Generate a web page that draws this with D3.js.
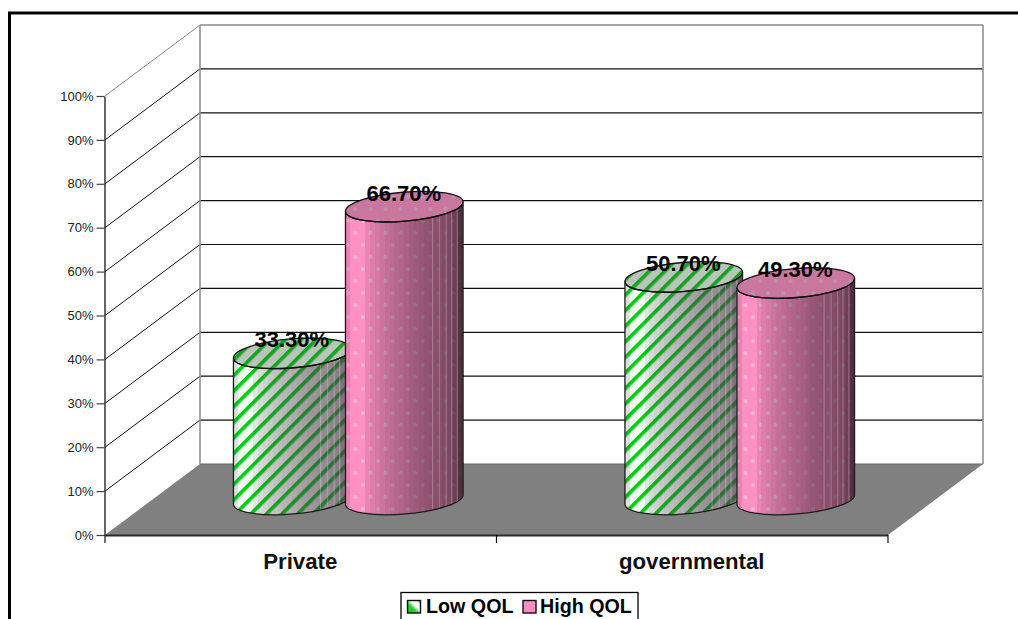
<!DOCTYPE html>
<html>
<head>
<meta charset="utf-8">
<script src="https://cdn.jsdelivr.net/npm/d3@7/dist/d3.min.js"></script>
<style>
  html, body { margin: 0; padding: 0; background: #fff; overflow: hidden; }
  svg { display: block; }
  text { font-family: "Liberation Sans", Arial, sans-serif; }
</style>
</head>
<body>
<svg id="chart" width="1018" height="619"></svg>
<script>
// Survey results: share of respondents by quality-of-life group and sector
const categories = ["Private", "governmental"];
const seriesNames = ["Low QOL", "High QOL"];
const lowQol = [33.3, 50.7];
const highQol = [66.7, 49.3];
const tickValues = [0, 10, 20, 30, 40, 50, 60, 70, 80, 90, 100];

const svg = d3.select("#chart");
const defs = svg.append("defs");

// Front plane of the 3D box, and the offset to its back wall
const y = d3.scaleLinear().domain([0, 100]).range([535, 96]);
const x = d3.scaleBand().domain(categories).range([105, 888]);
const depth = { dx: 95, dy: -71 };
const seriesOffset = d3.scaleOrdinal().domain(seriesNames).range([-56, 56]);
const rx = 59, ry = 14.5, tilt = 4.8 * Math.PI / 180;

// Fill patterns
const stripes = defs.append("pattern").attr("id", "stripes")
  .attr("patternUnits", "userSpaceOnUse").attr("width", 11).attr("height", 11)
  .attr("patternTransform", "rotate(45)");
stripes.append("rect").attr("width", 11).attr("height", 11).attr("fill", "#f2faf2");
stripes.append("rect").attr("x", -0.8).attr("width", 5).attr("height", 11).attr("fill", "#8fe898");
stripes.append("rect").attr("width", 3.4).attr("height", 11).attr("fill", "#00cc14");

const dots = defs.append("pattern").attr("id", "dots")
  .attr("patternUnits", "userSpaceOnUse").attr("width", 15).attr("height", 24);
dots.append("rect").attr("width", 15).attr("height", 24).attr("fill", "#ff90c4");
[[3, 5], [10.5, 17]].forEach(([cx, cy]) => {
  dots.append("circle").attr("cx", cx).attr("cy", cy).attr("r", 2)
    .attr("fill", "#e4d0dc").attr("opacity", 0.6);
});

// Stepped shading that turns the flat fill into a round surface
const shadeSteps = [0.12, 0, 0, 0, 0.1, 0.16, 0.2, 0.24, 0.28, 0.31, 0.34, 0.37, 0.4, 0.43, 0.46, 0.49, 0.51, 0.53, 0.55, 0.57, 0.59, 0.62, 0.68, 0.82];
function addShade(id, color) {
  const g = defs.append("linearGradient").attr("id", id)
    .attr("x1", 0).attr("x2", 1).attr("y1", 0).attr("y2", 0);
  shadeSteps.forEach((a, i) => {
    g.append("stop").attr("offset", i / shadeSteps.length).attr("stop-color", color).attr("stop-opacity", a);
    g.append("stop").attr("offset", (i + 1) / shadeSteps.length).attr("stop-color", color).attr("stop-opacity", a);
  });
}
addShade("shadePink", "#2a1a24");
addShade("shadeGreen", "#4a3048");

const legendGrad = defs.append("linearGradient").attr("id", "legendGreen")
  .attr("x1", 0).attr("y1", 1).attr("x2", 1).attr("y2", 0);
[[0, "#00c818"], [0.4, "#30d040"], [0.6, "#ffffff"], [0.8, "#e8f8e8"], [1, "#20b030"]].forEach(([o, c]) =>
  legendGrad.append("stop").attr("offset", o).attr("stop-color", c));

// Outer chart frame (left and top sides show)
svg.append("path").attr("d", "M9.5,619 V13 H1018").attr("fill", "none")
  .attr("stroke", "#000").attr("stroke-width", 3);

// Floor
const floorY = y(0);
svg.append("path")
  .attr("d", `M${x.range()[0]},${floorY} l${depth.dx},${depth.dy} H${x.range()[1] + depth.dx} L${x.range()[1]},${floorY} Z`)
  .attr("fill", "#808080");

// Gridlines running along the side wall and the back wall
const grid = svg.append("g").attr("fill", "none");
tickValues.forEach(t => {
  const top = t === 100, bottom = t === 0;
  const col = top ? "#888" : "#111";
  if (!bottom) {
    grid.append("line").attr("x1", 105).attr("y1", y(t))
      .attr("x2", 105 + depth.dx).attr("y2", y(t) + depth.dy)
      .attr("stroke", col).attr("stroke-width", 1);
    grid.append("line").attr("x1", 105 + depth.dx).attr("y1", y(t) + depth.dy)
      .attr("x2", 888 + depth.dx).attr("y2", y(t) + depth.dy)
      .attr("stroke", col).attr("stroke-width", top ? 1.6 : 1.2);
  } else {
    grid.append("line").attr("x1", 105 + depth.dx).attr("y1", y(t) + depth.dy)
      .attr("x2", 888 + depth.dx).attr("y2", y(t) + depth.dy)
      .attr("stroke", "#666").attr("stroke-width", 1.2);
  }
});
[105 + depth.dx, 888 + depth.dx].forEach(px => {
  grid.append("line").attr("x1", px).attr("x2", px)
    .attr("y1", y(100) + depth.dy).attr("y2", y(0) + depth.dy)
    .attr("stroke", "#909090").attr("stroke-width", 1.6);
});

// Value axis
const yAxis = d3.axisLeft(y).tickValues(tickValues).tickFormat(d => d + "%").tickSize(8).tickSizeOuter(0).tickPadding(3);
const yG = svg.append("g").attr("transform", "translate(104.5,0)").call(yAxis);
yG.select(".domain").attr("stroke", "#000").attr("stroke-width", 1.2);
yG.selectAll(".tick line").attr("stroke", "#444").attr("stroke-width", 1.2);
yG.selectAll(".tick text").attr("font-size", 13).attr("fill", "#222")
  .attr("font-family", '"Liberation Sans", Arial, sans-serif');

// Category axis: front edge, tick marks between categories and labels
svg.append("line").attr("x1", 105).attr("x2", 888).attr("y1", floorY + 0.5).attr("y2", floorY + 0.5)
  .attr("stroke", "#2a2a2a").attr("stroke-width", 2);
const boundaries = [x.range()[0], x(categories[1]), x.range()[1]];
svg.selectAll("line.cat-tick").data(boundaries).join("line").attr("class", "cat-tick")
  .attr("x1", d => d).attr("x2", d => d).attr("y1", floorY).attr("y2", floorY + 8)
  .attr("stroke", "#111").attr("stroke-width", 1.2);
svg.selectAll("text.cat").data(categories).join("text").attr("class", "cat")
  .attr("x", d => x(d) + x.bandwidth() / 2 - 0.5)
  .attr("y", 569)
  .attr("text-anchor", "middle").attr("font-size", 22.2).attr("font-weight", "bold").attr("fill", "#111")
  .text(d => d);

// Cylinders sit halfway into the box depth
function cylinderPath(cx, yTop, yBase) {
  const ex = rx * Math.cos(tilt), ey = rx * Math.sin(tilt), deg = -tilt * 180 / Math.PI;
  return {
    body: `M${cx - ex},${yTop + ey} L${cx - ex},${yBase + ey} ` +
          `A${rx},${ry} ${deg} 0 0 ${cx + ex},${yBase - ey} L${cx + ex},${yTop - ey} ` +
          `A${rx},${ry} ${deg} 0 1 ${cx - ex},${yTop + ey} Z`,
    top: `M${cx - ex},${yTop + ey} A${rx},${ry} ${deg} 0 1 ${cx + ex},${yTop - ey} ` +
         `A${rx},${ry} ${deg} 0 1 ${cx - ex},${yTop + ey} Z`
  };
}

const bars = [];
seriesNames.forEach((name, s) => {
  const values = s === 0 ? lowQol : highQol;
  categories.forEach((cat, c) => bars.push({ name, cat, value: values[c], c, s }));
});
// Left-to-right per category so the second cylinder overlaps the first
bars.sort((a, b) => a.c - b.c || a.s - b.s);

const highlightBands = [0.74, 0.8, 0.855, 0.9, 0.95];
bars.forEach((b, i) => {
  const cx = x(b.cat) + x.bandwidth() / 2 + depth.dx / 2 + seriesOffset(b.name);
  const yBase = y(0) + depth.dy / 2;
  const yTop = y(b.value) + depth.dy / 2;
  const p = cylinderPath(cx, yTop, yBase);
  const isLow = b.s === 0;
  const g = svg.append("g").attr("class", "bar");
  g.append("path").attr("d", p.body).attr("fill", isLow ? "url(#stripes)" : "url(#dots)");
  g.append("path").attr("d", p.body).attr("fill", isLow ? "url(#shadeGreen)" : "url(#shadePink)");

  const clipId = "clip" + i;
  defs.append("clipPath").attr("id", clipId).append("path").attr("d", p.body);
  const lines = g.append("g").attr("clip-path", `url(#${clipId})`);
  highlightBands.forEach(f => {
    const lx = cx - rx + 2 * rx * f;
    lines.append("line").attr("x1", lx).attr("x2", lx).attr("y1", yTop - ry).attr("y2", yBase + ry)
      .attr("stroke", "#fff").attr("stroke-opacity", 0.25).attr("stroke-width", 1);
  });

  g.append("path").attr("d", p.top).attr("fill", isLow ? "url(#stripes)" : "url(#dots)");
  g.append("path").attr("d", p.top).attr("fill", isLow ? "#3a4a3a" : "#50404a").attr("fill-opacity", 0.3);
  g.append("path").attr("d", p.body).attr("fill", "none").attr("stroke", "#1a1a1a").attr("stroke-width", 1.3);
  g.append("path").attr("d", p.top).attr("fill", "none").attr("stroke", "#111").attr("stroke-width", 1.3);
  b.cx = cx; b.yTop = yTop;
});

// Value labels go last so they stay above every cylinder
svg.selectAll("text.value").data(bars).join("text").attr("class", "value")
  .attr("x", d => d.cx - 0.5)
  .attr("y", d => d.yTop - 6)
  .attr("text-anchor", "middle").attr("font-size", 22).attr("font-weight", "bold").attr("fill", "#000")
  .text(d => d.value.toFixed(2) + "%");

// Legend
const legend = svg.append("g");
legend.append("rect").attr("x", 401).attr("y", 592.5).attr("width", 237).attr("height", 40)
  .attr("fill", "#fff").attr("stroke", "#000").attr("stroke-width", 1.3);
const legendItems = [
  { name: seriesNames[0], sx: 407.5, tx: 426, fill: "url(#legendGreen)" },
  { name: seriesNames[1], sx: 523, tx: 540, fill: "#ff8cc4" }
];
legendItems.forEach(it => {
  legend.append("rect").attr("x", it.sx).attr("y", 600.5).attr("width", 13).attr("height", 12.5)
    .attr("fill", it.fill).attr("stroke", "#111").attr("stroke-width", 1.4);
  legend.append("text").attr("x", it.tx).attr("y", 613).attr("font-size", 19.7)
    .attr("font-weight", "bold").attr("fill", "#000").text(it.name);
});
</script>
</body>
</html>
